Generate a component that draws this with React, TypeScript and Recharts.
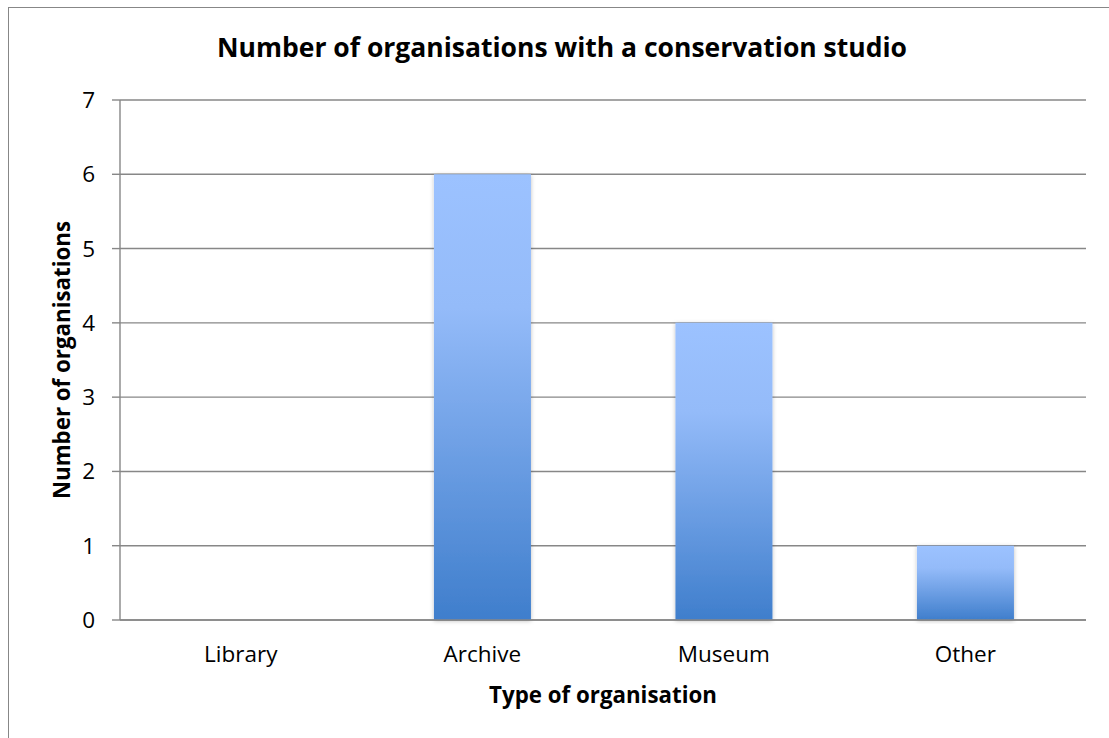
import React from "react";
import { BarChart, Bar, XAxis, YAxis, CartesianGrid } from "recharts";

const categories = ["Library", "Archive", "Museum", "Other"];
const counts = [0, 6, 4, 1];
const yTicks = [0, 1, 2, 3, 4, 5, 6, 7];
const boundaryTicks = [0, 1, 2, 3, 4];

const data = categories.map((c, i) => ({ name: c, value: counts[i], pos: i + 0.5 }));

const FONT = "'Open Sans', Lato, sans-serif";
const GRID = "#878787";

export default function App() {
  return (
    <div
      style={{
        position: "fixed",
        top: 7,
        left: 8,
        width: 1101,
        height: 731,
        borderLeft: `1px solid ${GRID}`,
        borderTop: `1px solid ${GRID}`,
        fontFamily: FONT,
        overflow: "hidden",
        background: "#fff",
      }}
    >
      <div
        style={{
          position: "absolute",
          left: 0,
          top: 21,
          width: 1106,
          textAlign: "center",
          fontWeight: 700,
          fontSize: 26.5,
          color: "#000",
          whiteSpace: "nowrap",
        }}
      >
        Number of organisations with a conservation studio
      </div>
      <BarChart
        width={1100}
        height={729}
        data={data}
        margin={{ top: 92, right: 23, bottom: 0, left: 0 }}
        barCategoryGap="30%"
      >
        <defs>
          <linearGradient id="barGrad" x1="0" y1="0" x2="0" y2="1">
            <stop offset="0%" stopColor="#9CC2FF" />
            <stop offset="30%" stopColor="#94BBF9" />
            <stop offset="100%" stopColor="#3F7ECC" />
          </linearGradient>
          <filter id="shadow" x="-10%" y="-5%" width="120%" height="110%">
            <feDropShadow dx="0" dy="1" stdDeviation="2" floodColor="#000" floodOpacity="0.25" />
          </filter>
        </defs>
        <CartesianGrid vertical={false} stroke={GRID} strokeWidth={1.4} />
        <XAxis
          dataKey="name"
          xAxisId="cat"
          tickLine={false}
          axisLine={{ stroke: GRID, strokeWidth: 1.4 }}
          tick={{ fill: "#000", fontSize: 22.5, fontFamily: FONT }}
          tickMargin={20}
          height={117}
          label={{
            value: "Type of organisation",
            position: "insideBottom",
            offset: 34,
            fill: "#000",
            fontSize: 22.3,
            fontWeight: 700,
            fontFamily: FONT,
          }}
        />
        <XAxis
          xAxisId="bound"
          type="number"
          domain={[0, 4]}
          ticks={boundaryTicks}
          tick={false}
          tickLine={{ stroke: GRID, strokeWidth: 1.4 }}
          tickSize={8}
          axisLine={false}
          height={0}
          dataKey="pos"
        />
        <YAxis
          domain={[0, 7]}
          ticks={yTicks}
          interval={0}
          width={111}
          tick={{ fill: "#000", fontSize: 22.5, fontFamily: FONT }}
          tickLine={{ stroke: GRID, strokeWidth: 1.4 }}
          tickSize={8}
          tickMargin={17}
          axisLine={{ stroke: GRID, strokeWidth: 1.4 }}
          label={{
            value: "Number of organisations",
            angle: -90,
            position: "insideLeft",
            offset: 53,
            style: { textAnchor: "middle" },
            fill: "#000",
            fontSize: 22.3,
            fontWeight: 700,
            fontFamily: FONT,
          }}
        />
        <Bar
          dataKey="value"
          xAxisId="cat"
          fill="url(#barGrad)"
          filter="url(#shadow)"
          isAnimationActive={false}
        />
      </BarChart>
    </div>
  );
}
